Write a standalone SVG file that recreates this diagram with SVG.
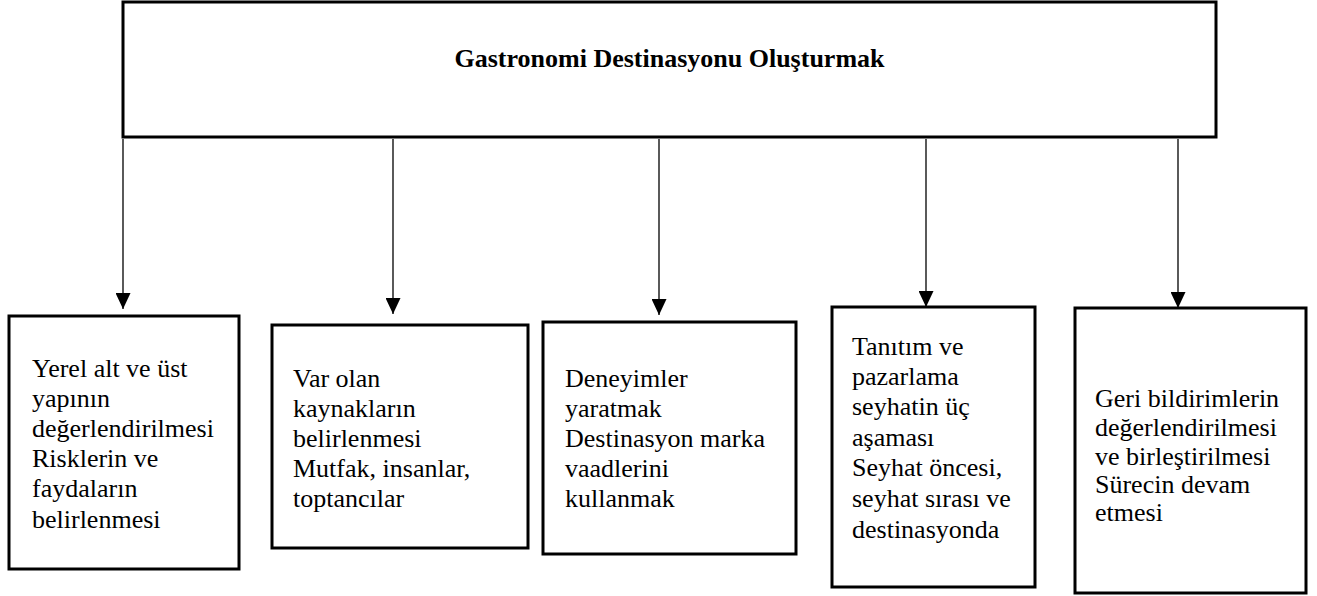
<svg xmlns="http://www.w3.org/2000/svg" width="1317" height="596" viewBox="0 0 1317 596">
<defs>
<marker id="ah" markerWidth="16" markerHeight="15" refX="16" refY="7.5" orient="auto" markerUnits="userSpaceOnUse">
<path d="M0,0 L16,7.5 L0,15 Z" fill="#000"/>
</marker>
<style>
.box{fill:#fff;stroke:#000;stroke-width:3}
.conn{stroke:#000;stroke-width:1.3;fill:none}
.t{font-family:"Liberation Serif","Times New Roman",serif;font-size:26px;fill:#000}
.title{font-family:"Liberation Serif","Times New Roman",serif;font-size:26px;font-weight:bold;fill:#000}
</style>
</defs>
<rect width="1317" height="596" fill="#fff"/>
<g id="root">
<rect class="box" x="123" y="2" width="1093" height="135"/>
<text class="title" x="669.5" y="67" text-anchor="middle">Gastronomi Destinasyonu Oluşturmak</text>
</g>
<g id="connectors">
<line class="conn" x1="123" y1="139" x2="123" y2="309" marker-end="url(#ah)"/>
<line class="conn" x1="393" y1="139" x2="393" y2="314" marker-end="url(#ah)"/>
<line class="conn" x1="659" y1="139" x2="659" y2="315" marker-end="url(#ah)"/>
<line class="conn" x1="926" y1="139" x2="926" y2="307" marker-end="url(#ah)"/>
<line class="conn" x1="1178" y1="139" x2="1178" y2="308" marker-end="url(#ah)"/>
</g>
<g id="node1">
<rect class="box" x="9" y="316" width="230" height="253"/>
<text class="t"><tspan x="32" y="377">Yerel alt ve üst</tspan><tspan x="32" y="407">yapının</tspan><tspan x="32" y="437">değerlendirilmesi</tspan><tspan x="32" y="467">Risklerin ve</tspan><tspan x="32" y="497">faydaların</tspan><tspan x="32" y="528">belirlenmesi</tspan></text>
</g>
<g id="node2">
<rect class="box" x="272" y="325" width="256" height="223"/>
<text class="t"><tspan x="293" y="387">Var olan</tspan><tspan x="293" y="417">kaynakların</tspan><tspan x="293" y="447">belirlenmesi</tspan><tspan x="293" y="477">Mutfak, insanlar,</tspan><tspan x="293" y="507">toptancılar</tspan></text>
</g>
<g id="node3">
<rect class="box" x="543" y="322" width="253" height="232"/>
<text class="t"><tspan x="565" y="387">Deneyimler</tspan><tspan x="565" y="417">yaratmak</tspan><tspan x="565" y="447">Destinasyon marka</tspan><tspan x="565" y="477">vaadlerini</tspan><tspan x="565" y="507">kullanmak</tspan></text>
</g>
<g id="node4">
<rect class="box" x="832" y="307" width="203" height="280"/>
<text class="t"><tspan x="852" y="355">Tanıtım ve</tspan><tspan x="852" y="385">pazarlama</tspan><tspan x="852" y="415">seyhatin üç</tspan><tspan x="852" y="446">aşaması</tspan><tspan x="852" y="476">Seyhat öncesi,</tspan><tspan x="852" y="507">seyhat sırası ve</tspan><tspan x="852" y="538">destinasyonda</tspan></text>
</g>
<g id="node5">
<rect class="box" x="1075" y="308" width="231" height="285"/>
<text class="t"><tspan x="1095" y="407">Geri bildirimlerin</tspan><tspan x="1095" y="436">değerlendirilmesi</tspan><tspan x="1095" y="465">ve birleştirilmesi</tspan><tspan x="1095" y="493">Sürecin devam</tspan><tspan x="1095" y="521">etmesi</tspan></text>
</g>
</svg>
